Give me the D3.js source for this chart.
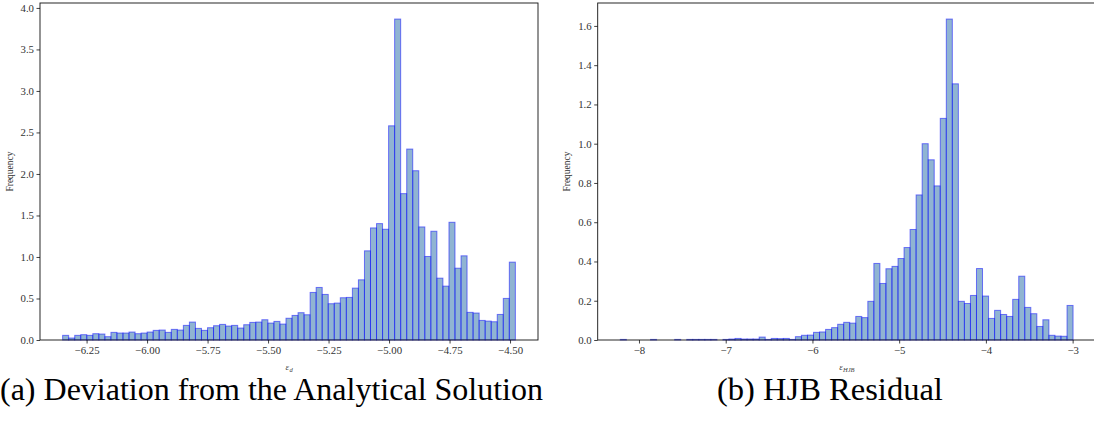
<!DOCTYPE html>
<html>
<head>
<meta charset="utf-8">
<script src="https://cdn.jsdelivr.net/npm/d3@7"></script>
<style>
  html, body { margin: 0; padding: 0; background: #fff; }
  svg { display: block; }
</style>
</head>
<body>
<svg id="chart" width="1094" height="427"></svg>
<script>
// ---------- data ----------
// (a) deviation from analytical solution: 75 bins between binRangeA
const binRangeA = [-6.349, -4.478];
const freqA = [
  0.056, 0.024, 0.056, 0.064, 0.056, 0.076, 0.072, 0.040, 0.092, 0.084,
  0.084, 0.096, 0.076, 0.084, 0.096, 0.116, 0.120, 0.092, 0.128, 0.120,
  0.176, 0.216, 0.140, 0.116, 0.148, 0.172, 0.188, 0.168, 0.176, 0.144,
  0.184, 0.212, 0.216, 0.244, 0.204, 0.224, 0.192, 0.262, 0.296, 0.329,
  0.304, 0.573, 0.633, 0.549, 0.437, 0.445, 0.509, 0.513, 0.625, 0.725,
  1.074, 1.350, 1.402, 1.334, 2.580, 3.866, 1.763, 2.300, 2.039, 1.362,
  1.006, 1.310, 0.745, 0.649, 1.418, 0.865, 1.014, 0.333, 0.325, 0.236,
  0.228, 0.220, 0.308, 0.501, 0.938
];
const xTicksA = [-6.25, -6.00, -5.75, -5.50, -5.25, -5.00, -4.75, -4.50];
const yTicksA = [0.0, 0.5, 1.0, 1.5, 2.0, 2.5, 3.0, 3.5, 4.0];

// (b) HJB residual: 75 bins between binRangeB
const binRangeB = [-8.215, -2.995];
const freqB = [
  0.003, 0.000, 0.000, 0.000, 0.000, 0.003, 0.000, 0.000, 0.000, 0.003,
  0.000, 0.003, 0.003, 0.003, 0.003, 0.003, 0.000, 0.003, 0.005, 0.008,
  0.005, 0.005, 0.005, 0.015, 0.003, 0.008, 0.007, 0.008, 0.003, 0.017,
  0.024, 0.025, 0.039, 0.041, 0.054, 0.063, 0.080, 0.090, 0.086, 0.120,
  0.114, 0.197, 0.390, 0.288, 0.363, 0.375, 0.415, 0.471, 0.563, 0.739,
  1.000, 0.918, 0.785, 1.129, 1.635, 1.305, 0.197, 0.186, 0.227, 0.364,
  0.224, 0.110, 0.151, 0.130, 0.120, 0.207, 0.325, 0.166, 0.134, 0.069,
  0.103, 0.024, 0.020, 0.019, 0.176
];
const xTicksB = [-8, -7, -6, -5, -4, -3];
const yTicksB = [0.0, 0.2, 0.4, 0.6, 0.8, 1.0, 1.2, 1.4, 1.6];

const FONT = "Liberation Serif";
const panels = [
  { range: binRangeA, freq: freqA, xTicks: xTicksA, yTicks: yTicksA, xFmt: ".2f", yFmt: ".1f",
    xLabel: "ε", xSub: "d", caption: "(a) Deviation from the Analytical Solution",
    left: 40, width: 498, capX: 0, capW: 543 },
  { range: binRangeB, freq: freqB, xTicks: xTicksB, yTicks: yTicksB, xFmt: "d", yFmt: ".1f",
    xLabel: "ε", xSub: "HJB", caption: "(b) HJB Residual",
    left: 597.7, width: 498, capX: 717, capW: 226 }
];

const svg = d3.select("#chart").attr("font-family", FONT);
const plotTop = 3, plotBottom = 340;
const minus = s => s.replace(/-/g, "\u2212");

panels.forEach(p => {
  const n = p.freq.length;
  const bw = (p.range[1] - p.range[0]) / n;
  const bins = p.freq.map((f, i) => ({ x0: p.range[0] + i * bw, x1: p.range[0] + (i + 1) * bw, f }));
  const span = p.range[1] - p.range[0];
  const x = d3.scaleLinear()
    .domain([p.range[0] - 0.05 * span, p.range[1] + 0.05 * span])
    .range([p.left, p.left + p.width]);
  const ymax = d3.max(p.freq) * 1.05;
  const y = d3.scaleLinear().domain([0, ymax]).range([plotBottom, plotTop]);

  const g = svg.append("g");

  // bars
  g.append("g").selectAll("rect").data(bins).join("rect")
    .attr("x", d => x(d.x0))
    .attr("y", d => y(d.f))
    .attr("width", d => x(d.x1) - x(d.x0))
    .attr("height", d => y(0) - y(d.f))
    .attr("fill", "#4682b4").attr("fill-opacity", 0.6)
    .attr("stroke", "#0000ff").attr("stroke-opacity", 0.5).attr("stroke-width", 1);

  // spines (box)
  g.append("rect")
    .attr("x", p.left).attr("y", plotTop)
    .attr("width", p.width).attr("height", plotBottom - plotTop)
    .attr("fill", "none").attr("stroke", "#111").attr("stroke-width", 0.9);

  // axes
  const fx = d3.format(p.xFmt), fy = d3.format(p.yFmt);
  const xAxis = g.append("g").attr("transform", `translate(0,${plotBottom})`)
    .call(d3.axisBottom(x).tickValues(p.xTicks).tickSize(3.5).tickPadding(2.5)
      .tickFormat(d => minus(fx(d))));
  const yAxis = g.append("g").attr("transform", `translate(${p.left},0)`)
    .call(d3.axisLeft(y).tickValues(p.yTicks).tickSize(3.5).tickPadding(2.5)
      .tickFormat(d => minus(fy(d))));
  [xAxis, yAxis].forEach(a => {
    a.attr("font-family", FONT).attr("font-size", 10.8);
    a.select(".domain").remove();
    a.selectAll("line").attr("stroke", "#111").attr("stroke-width", 0.8);
    a.selectAll("text").attr("fill", "#333");
  });

  // y label
  g.append("text")
    .attr("transform", `translate(${p.left - 27.5},${(plotTop + plotBottom) / 2}) rotate(-90)`)
    .attr("text-anchor", "middle").attr("font-size", 9.5).attr("fill", "#333")
    .text("Frequency");

  // x label: epsilon and its subscript as separate texts
  const cx = p.left + p.width * 0.5;
  const eps = g.append("text")
    .attr("y", 370).attr("text-anchor", "end")
    .attr("font-size", 9).attr("font-style", "italic").attr("fill", "#444")
    .text(p.xLabel);
  const sub = g.append("text")
    .attr("y", 372).attr("text-anchor", "start")
    .attr("font-size", 6.5).attr("font-style", "italic").attr("fill", "#444")
    .text(p.xSub);
  const we = eps.node().getComputedTextLength(), ws = sub.node().getComputedTextLength();
  const x0 = cx - (we + ws) / 2;
  eps.attr("x", x0 + we);
  sub.attr("x", x0 + we + 0.3);

  // caption
  const cap = svg.append("text")
    .attr("x", p.capX).attr("y", 400)
    .attr("font-size", 22).attr("fill", "#000")
    .text(p.caption);
  const w = cap.node().getComputedTextLength();
  cap.attr("font-size", 22 * p.capW / w);
});
</script>
</body>
</html>
